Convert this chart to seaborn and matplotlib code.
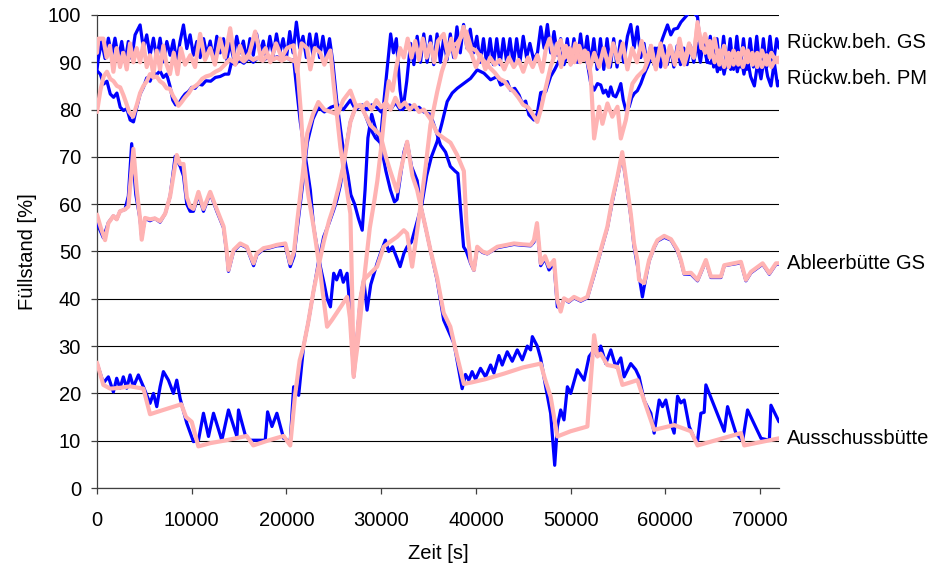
import matplotlib
matplotlib.use("Agg")
import matplotlib.pyplot as plt
import matplotlib.transforms as mtransforms
import seaborn as sns
import pandas as pd

# ---------------- data (time in s, level in %) ----------------
# Rückw.beh. GS  (blue = measured, pink = simulated)
gs_meas_t = [0, 140, 490, 850, 1200, 1550, 1900, 2260, 2610, 2960, 3310, 3670, 4020, 4550, 4900, 5250, 5600, 5960,
             6310, 6660, 7010, 7370, 7720, 8070, 8420, 8770, 9130, 9480, 9830, 10180, 10540, 10890, 11250, 11600,
             11950, 12300, 12650, 13000, 13350, 13700, 14050, 14400, 14750, 15100, 15450, 15800, 16150, 16500, 16850,
             17200, 17550, 17900, 18250, 18600, 18950, 19300, 19650, 20000, 20350, 20700, 21050, 21400, 21750, 22100,
             22450, 22800, 23150, 23500, 23850, 24200, 24550, 24900, 25300, 25700, 26100, 26500, 26800, 27200, 27600,
             28000, 28300, 28600, 29000, 29400, 29900, 30300, 30700, 31000, 31300, 31600, 32000, 32300, 32700, 33100,
             33450, 33800, 34150, 34500, 34850, 35200, 35550, 35900, 36250, 36600, 36950, 37300, 37650, 38000, 38350,
             38700, 39050, 39400, 39750, 40100, 40450, 40800, 41150, 41500, 41850, 42200, 42550, 42900, 43250, 43600,
             43950, 44300, 44650, 45000, 45350, 45700, 46100, 46500, 46850, 47200, 47550, 47900, 48250, 48600, 48950,
             49300, 49650, 50000, 50350, 50700, 51050, 51400, 51750, 52100, 52450, 52800, 53150, 53500, 53850, 54200,
             54550, 54900, 55250, 55600, 56000, 56350, 56700, 57050, 57400, 57750, 58100, 58450, 58800, 59150, 59500,
             59850, 60200, 60550, 60900, 61250, 61600, 61950, 62300, 62650, 63000, 63350, 63700, 64050, 64400, 64750,
             65100, 65450, 65800, 66150, 66500, 66850, 67200, 67550, 67900, 68250, 68600, 68950, 69300, 69650, 70000,
             70350, 70700, 71050, 71400, 71750, 72000]
gs_meas_v = [88.5, 90.8, 94.4, 90.8, 95.1, 91.5, 95.1, 90.8, 94.4, 90.1, 94.4, 90.8, 95.8, 97.9, 92.9, 95.8, 91.5, 95.1,
             90.8, 95.1, 90.1, 94.4, 91.5, 94.7, 90.1, 94.4, 97.9, 92.9, 95.8, 91.5, 94.4, 91, 95, 91.5,
             94.5, 90.5, 95.5, 92, 95, 90.5, 94, 91, 95.5, 92, 94.5, 90.5, 95, 91.5, 96,
             92, 94.5, 91, 95.5, 91.5, 96, 92, 95, 91, 96.5, 92, 98.5, 93, 95.5, 91,
             96, 91.5, 96, 91, 95.5, 91, 95, 90, 82, 76, 70, 66, 62, 60, 57,
             54.5, 63, 74, 79, 76, 73, 82, 90, 96, 92, 95, 84, 80, 86, 94,
             89.5, 95.5, 90, 96, 90, 95.5, 89.5, 96, 90, 95, 90.5, 96, 91, 97.5, 92,
             98, 93, 97, 92, 95.5, 90, 95, 89.5, 95, 89.5, 95, 89.5, 95, 90, 95,
             89.5, 95, 90, 95.5, 91, 94, 90.5, 92, 97.5, 93, 98, 92, 96.5, 91.5, 95,
             90, 95, 89.5, 95, 90, 96, 90.5, 95.5, 89.5, 95, 88.5, 95, 88.5, 95, 89,
             95, 89, 94.5, 90, 95.5, 98, 93, 97.5, 91, 94, 89, 93.5, 89.5, 93, 89,
             93.5, 89.5, 93, 89, 93.5, 89.5, 93, 89.5, 93.5, 90, 94, 90, 95, 90, 95.5,
             89, 95, 88.5, 95.5, 89, 95, 88.5, 95.5, 89, 95, 88.5, 95, 89, 95.5, 88.5,
             95, 89, 95.5, 89.5, 95, 93]

gs_sim_t = [0, 140, 670, 1020, 1370, 1730, 2080, 2430, 2780, 3140, 3490, 3840, 4190, 4550, 4900, 5250, 5600, 5950,
            6300, 6650, 7000, 7350, 7700, 8100, 8500, 8850, 9300, 9850, 10350, 10890, 11400, 11950, 12450, 13000,
            13500, 14060, 14600, 15100, 15600, 16100, 16700, 17300, 17800, 18300, 18900, 19500, 20050, 20760, 21110,
            21600, 22170, 22520, 23000, 23580, 24000, 24280, 24640, 25000, 25700, 26300, 26750, 26950, 27100, 27500,
            27900, 28300, 28800, 29300, 29600, 30000, 30400, 30800, 31200, 31600, 32000, 32400, 32800, 33200, 33600,
            34000, 34400, 34800, 35200, 35600, 36000, 36600, 37000, 37400, 37800, 38200, 38700, 39100, 39500, 40000,
            40500, 41000, 41500, 42000, 42500, 43000, 43500, 44000, 44500, 45000, 45500, 46000, 46500, 47000, 47400,
            47800, 48200, 48600, 49000, 49500, 50000, 50500, 51000, 51500, 52000, 52500, 53000, 53500, 54000, 54500,
            55000, 55500, 56000, 56500, 57000, 57500, 58000, 58500, 59000, 59500, 60000, 60500, 61000, 61500, 62000,
            62500, 63000, 63400, 63800, 64200, 64700, 65200, 65700, 66200, 66700, 67200, 67700, 68200, 68700, 69200,
            69700, 70200, 70700, 71200, 71700, 72000]
gs_sim_v = [92, 95, 95, 91, 93.5, 88, 93, 89, 92, 88.5, 94, 90, 93, 90, 94, 89, 91.5, 87.5,
            92.5, 88.5, 93.5, 89.5, 87.5, 92, 87.5, 93, 89.5, 91.5, 89, 96, 90.5, 93, 89.5, 95,
            91, 97.2, 89.5, 93.5, 90.5, 92, 96.5, 91, 93, 90, 94, 91, 93, 93.6, 88,
            94, 93, 88.5, 93, 92, 89.5, 91, 92.5, 85, 72, 64, 58, 40, 24, 30,
            38, 46, 55, 61, 65, 72, 80, 86, 84, 89, 93, 91, 95, 91, 94.5,
            90.5, 95, 91, 94, 90, 94.5, 96, 92, 95, 91, 94, 97.5, 93, 92, 89,
            91.5, 88.5, 91, 89.5, 90.5, 88.5, 91, 89, 90.5, 88, 91, 89, 91.5, 88, 93,
            95, 91, 94, 89, 93.5, 89.5, 94, 90, 92.5, 88.5, 92, 89, 93, 89, 94,
            90, 94, 88.5, 93, 90, 94.5, 90, 93.5, 88.5, 94, 89, 93.5, 89.5, 95, 90,
            94, 91, 98.5, 93, 96, 91, 95, 89.5, 93.5, 89, 92.5, 89.5, 93, 90, 92,
            89, 92.5, 89.5, 92, 90, 91]

# Rückw.beh. PM
pm_meas_t = [0, 350, 700, 1050, 1400, 1750, 2100, 2450, 2800, 3150, 3500, 3850, 4200, 4550, 4900, 5250, 5600, 5950,
             6300, 6650, 7000, 7350, 7700, 8000, 8300, 8700, 9000, 9300, 9650, 10000, 10350, 10700, 11100, 11500,
             12000, 12500, 13000, 13500, 13900, 14200, 14600, 15000, 15500, 16000, 16500, 17000, 17500, 18000, 18500,
             19000, 19500, 20000, 20400, 20760, 21100, 21460, 22000, 22520, 22870, 23230, 23580, 24000, 24300, 24640,
             24990, 25300, 25690, 26000, 26400, 26700, 27100, 27500, 27800, 28160, 28510, 28900, 29570, 30000, 30450,
             30800, 31200, 31600, 32000, 32400, 32740, 33200, 33800, 34300, 34800, 35300, 35900, 36400, 36970, 37500,
             38030, 38700, 39440, 40140, 40850, 41550, 42260, 42610, 43310, 43660, 44100, 44550, 44900, 45250, 45600,
             46130, 46480, 46840, 47370, 47890, 48300, 48950, 49300, 49700, 50100, 50500, 50900, 51300, 51770, 52130,
             52480, 52830, 53180, 53450, 53710, 54000, 54240, 54500, 54770, 55050, 55300, 55560, 55830, 56180, 56450,
             56710, 57050, 57410, 57770, 58120, 58500, 58900, 59300, 59700, 60230, 60580, 60900, 61290, 61650, 62000,
             62520, 63000, 63400, 63750, 64100, 64450, 64800, 65150, 65500, 65850, 66200, 66550, 66900, 67250, 67600,
             67950, 68300, 68650, 69000, 69400, 69750, 70100, 70450, 70800, 71150, 71500, 71850, 72000]
pm_meas_v = [88.2, 87.5, 85.4, 86, 83.3, 82.6, 83.5, 80.5, 79.8, 80.2, 77.8, 77.4, 80.5, 83.3, 84.7, 86.7, 86, 87.8,
             87.4, 88.2, 86.8, 87.5, 85, 82, 81, 81.5, 82.5, 83.3, 83.8, 84.7, 84.5, 85.4, 85.2, 86.1,
             86, 86.8, 87, 87.5, 87.5, 90, 89.5, 90.5, 89.8, 90.8, 90, 91, 90.3, 91, 90.5,
             91.2, 90.6, 91, 90.5, 90.5, 84, 77.4, 70, 63, 55.2, 51, 46.8, 43, 40, 38.3,
             45.4, 44, 46, 43.5, 45.4, 38, 23.5, 33, 40, 44, 37.6, 43, 47.5, 50, 52.4,
             50, 51, 48.9, 46.8, 49.6, 51, 52, 56.4, 60, 66, 70, 73.2, 77, 81.7, 83.5,
             84.5, 85.5, 86.6, 88.4, 87.7, 86.3, 87, 85.2, 85.9, 84.1, 84.5, 83.1, 81.3, 81.8, 78.9,
             77.8, 79.2, 83.6, 83.8, 87, 88.4, 91, 89.5, 92, 90, 92.5, 90, 92, 89.8, 85.5,
             84.1, 85.5, 85.2, 83.5, 84.1, 82.8, 84.8, 83, 82.7, 84, 85.5, 82, 79.9, 80.6, 82.5,
             83.4, 84, 85.5, 87.5, 89.1, 91, 93, 92.5, 95, 97.9, 95.8, 97, 97.2, 98.5, 99.3,
             100.5, 100.5, 99.6, 92, 93.3, 90, 89.8, 92, 88, 91.5, 87.5, 91, 88.5, 92, 88,
             91.5, 87.5, 91, 87, 85, 90, 86.5, 91, 87, 85, 90, 85, 86]

pm_sim_t = [0, 350, 700, 1050, 1400, 1750, 2100, 2450, 2800, 3150, 3400, 3800, 4200, 4550, 4900, 5250, 5600, 5950,
            6300, 6650, 7000, 7350, 7700, 8000, 8300, 8600, 8900, 9300, 9700, 10000, 10400, 10700, 11100, 11500,
            12000, 12500, 13000, 13500, 14000, 14500, 15000, 15500, 16000, 16500, 17000, 17500, 18000, 18500, 19000,
            19500, 20000, 20500, 21110, 21500, 21820, 22300, 22870, 23580, 24290, 24800, 25300, 25800, 26400, 26700,
            27100, 27500, 27800, 28160, 28870, 29570, 30270, 30900, 31680, 32390, 32740, 33270, 33700, 34150, 34700,
            35200, 35910, 36400, 36970, 37500, 38000, 38500, 39000, 39500, 40000, 40500, 41000, 41500, 42000, 42500,
            43000, 43500, 44000, 44500, 45000, 45500, 46000, 46480, 46840, 47300, 47900, 48400, 48950, 49400, 49900,
            50400, 50900, 51400, 51800, 52130, 52480, 53010, 53360, 53890, 54400, 54950, 55300, 55830, 56180, 56530,
            57060, 57770, 58470, 59000, 59500, 60000, 60500, 61000, 61500, 62000, 62500, 63000, 63400, 63800, 64200,
            64700, 65200, 65700, 66200, 66700, 67200, 67700, 68200, 68700, 69200, 69700, 70200, 70700, 71200, 71700,
            72000]
pm_sim_v = [79.5, 84, 87, 88, 86.5, 86, 85, 84.7, 83, 81, 79.5, 78.5, 81, 83.5, 85, 86, 87.5, 86.8,
            87, 86, 85.5, 84.5, 84.4, 83, 82, 80.8, 81.5, 82.6, 83.5, 84.5, 85, 85.5, 86.5, 87,
            87.3, 88, 88.5, 89.5, 90.6, 90, 91, 90.2, 91.2, 90.5, 91, 90.3, 91.5, 90.5, 91,
            90.3, 91, 90.5, 90, 80, 69.8, 62, 55.2, 45.4, 34.1, 35.5, 37, 38.5, 40.4, 36,
            23.5, 33, 40, 44, 45.4, 46.8, 51, 52, 53.1, 54.5, 53.8, 46.8, 53, 59.5, 68,
            76.7, 83.7, 88, 91.5, 93.5, 94, 95.5, 96.5, 93, 92.5, 91, 90, 88.8, 87.8, 86.5,
            86, 84.6, 83.8, 82.5, 81, 80.5, 79, 77.4, 79.9, 84, 89.1, 92, 94.7, 91, 93,
            90, 93.5, 90.5, 92, 87, 73.9, 80.6, 77, 81.3, 78.5, 80.6, 73.9, 77.8, 82, 85.5,
            87, 88.4, 92, 89, 93, 90, 93.5, 90.5, 92, 89.5, 93, 91, 98, 94, 92,
            94.5, 90, 92.5, 89, 92, 89.5, 92, 89, 92.5, 89.5, 92, 89, 91.5, 89, 91,
            90]

# Ableerbütte GS
ab_meas_t = [0, 670, 1200, 1730, 2080, 2430, 2960, 3310, 3660, 4100, 4550, 4720, 5070, 5600, 6100, 6660, 7200, 7720,
             8250, 8780, 9130, 9480, 9830, 10180, 10710, 11240, 11950, 12650, 13360, 13700, 13880, 14410, 15120, 15820,
             16530, 16880, 17580, 18300, 18990, 19880, 20400, 20800, 21150, 21700, 22200, 22800, 23370, 24000, 24700,
             25400, 26000, 26750, 27300, 28000, 28500, 29000, 29500, 30000, 30500, 31000, 31500, 32000, 32500, 33000,
             33500, 34000, 34500, 35200, 35700, 36265, 36800, 37300, 37800, 38100, 38380, 38700, 39000, 39440, 39790,
             40140, 40700, 41200, 42260, 43000, 44020, 45000, 45780, 46130, 46450, 46840, 47300, 47720, 48250, 48600,
             48950, 49300, 49800, 50360, 51070, 51770, 52480, 53180, 53880, 54400, 54940, 55450, 55800, 56350, 56700,
             57060, 57580, 57760, 58290, 58820, 59170, 59880, 60600, 61290, 61640, 61990, 62700, 63400, 64280, 64810,
             65870, 66220, 67980, 68510, 69040, 70270, 70980, 71680, 72000]
ab_meas_v = [56, 52.9, 56.1, 57.5, 56.8, 58.5, 58.9, 61.7, 72.8, 62, 56.8, 53, 57, 56.5, 57, 56.2, 58, 61.7,
             70.1, 68, 66, 60, 58.5, 58.5, 62, 58.5, 62.3, 58.5, 55, 49.5, 45.8, 50, 51.5, 50.8,
             47, 49.3, 50.5, 50.8, 51.2, 51.3, 46.8, 49, 55, 64, 73, 78, 80.5, 79.5, 80.5,
             81, 80, 82, 80, 81, 80, 81, 80.5, 79.5, 81, 80, 81.5, 80, 80.5, 81,
             80, 80.5, 79.5, 79, 76, 72.5, 71, 68, 67, 66.5, 59, 51, 50, 47.5, 46,
             50.8, 49.8, 49.5, 50.8, 51.1, 51.5, 51.3, 51.2, 52, 55.5, 47, 48.5, 46.1, 47.5, 38.3,
             38, 40, 39.3, 40.2, 39.5, 40.2, 45, 50, 55, 60.5, 65.5, 70.5, 65.5, 57.5, 51,
             47, 40.4, 42.5, 48, 50.8, 52.2, 53, 52.4, 50, 48, 45.2, 45.2, 43.8, 48, 44.5,
             44.5, 47, 47.6, 43.8, 45.5, 47.3, 45.2, 47.3, 47.3]

ab_sim_t = [0, 400, 850, 1200, 1730, 2080, 2430, 2960, 3310, 3840, 4200, 4550, 4720, 5070, 5600, 6100, 6660, 7200,
            7720, 8420, 8780, 9130, 9480, 9830, 10180, 10710, 11240, 11950, 12650, 13360, 13700, 13880, 14410, 15120,
            15820, 16530, 16880, 17580, 18300, 18990, 19880, 20400, 20800, 21150, 21700, 22200, 22800, 23370, 24000,
            24700, 25400, 26000, 26750, 27300, 28000, 28500, 29000, 29500, 30000, 30500, 31000, 31500, 32000, 32500,
            33000, 33500, 34000, 34500, 35200, 35910, 36600, 37320, 38000, 38730, 39000, 39440, 39790, 40140, 40700,
            41200, 42260, 43000, 44020, 45000, 45780, 46130, 46450, 46840, 47300, 47720, 48250, 48600, 48950, 49300,
            49800, 50360, 51070, 51770, 52480, 53180, 53880, 54400, 54940, 55450, 55800, 56350, 56700, 57060, 57230,
            57760, 58290, 58820, 59170, 59880, 60600, 61290, 61640, 61990, 62700, 63400, 64280, 64810, 65870, 66220,
            67980, 68510, 69040, 70270, 70980, 71680, 72000]
ab_sim_v = [57.8, 55, 52.4, 56, 57.5, 56.8, 58.5, 58.9, 59.5, 71.7, 63, 56.8, 52.5, 57.1, 56.8, 57, 56.4, 58,
            61.7, 70.4, 68.5, 68.5, 61.5, 59.5, 59, 62.6, 59, 62.6, 58.9, 55.3, 50, 46.1, 50.3, 51.7,
            51, 47.5, 49.6, 50.7, 51, 51.4, 51.7, 47.5, 50, 56.6, 66, 75, 79, 81.6, 80,
            79.5, 79, 82, 84, 81, 80.5, 81.5, 80, 82, 80.5, 81.5, 80, 82.5, 80.5, 81.5,
            80, 81, 79.5, 80, 78, 75, 74, 73, 70.5, 67, 56, 48, 46.1, 51, 50,
            49.6, 51, 51.3, 51.7, 51.5, 51.4, 52.4, 56, 47.5, 49, 46.8, 48.2, 39.7, 37.3, 40.1,
            39.5, 40.4, 39.7, 40.4, 45.4, 50.3, 55.2, 61, 65.8, 71, 66, 58, 51.7, 48, 44,
            43.3, 48.2, 51, 52.4, 53.3, 52.6, 50.3, 48.2, 45.4, 45.5, 44, 48.2, 44.7, 44.7, 47.1,
            47.8, 44, 45.7, 47.5, 45.4, 47.5, 47.5]

# Ausschussbütte
au_meas_t = [0, 670, 1200, 1730, 2080, 2430, 2780, 3140, 3490, 3840, 4370, 4900, 5600, 5960, 6310, 6660, 7010, 7540,
             8070, 8420, 8780, 9480, 10180, 10710, 11240, 11770, 12300, 13180, 13880, 14770, 14940, 15650, 16170,
             17760, 18010, 18470, 18990, 19700, 20400, 20760, 21290, 21810, 22300, 22870, 23400, 23930, 24500, 24990,
             25340, 25690, 26200, 26750, 27300, 27800, 28300, 28860, 29400, 29920, 30500, 30980, 31400, 31680, 32040,
             32400, 32740, 33200, 33800, 34150, 35200, 35900, 36600, 37700, 38550, 38900, 39260, 39600, 39960, 40490,
             41020, 41550, 41900, 42430, 42780, 43310, 43840, 44370, 44900, 45430, 45780, 45960, 46480, 46840, 47370,
             47890, 48320, 48600, 48950, 49300, 49660, 50010, 50710, 51420, 51950, 52480, 52830, 53180, 53710, 54240,
             54770, 55300, 55650, 56350, 56880, 57230, 57760, 58470, 58820, 59350, 59700, 60050, 60580, 60930, 61290,
             61640, 61990, 62520, 63050, 63400, 63750, 64100, 64280, 66220, 66570, 67450, 68160, 68680, 70100, 70980,
             71150, 72000]
au_meas_v = [26.4, 22.2, 23.5, 20.3, 23.2, 21.1, 23.5, 21.1, 23.9, 21.4, 23.9, 21.4, 17.9, 20, 17.2, 21.4, 24.6, 22.8,
             20, 22.8, 18.9, 13.7, 9.8, 10.1, 15.8, 10.9, 15.8, 10.1, 16.5, 10.9, 16.5, 11.2, 10.1,
             10.1, 16.1, 13, 15.8, 10.5, 9.8, 21.4, 19.6, 30, 35, 41.8, 48, 53.1, 56, 58.8,
             61, 64, 71, 77.4, 80.5, 81, 79, 76, 74, 73, 67, 63, 60.5, 61, 66,
             71, 73.2, 68, 65, 60, 50.3, 44, 35.5, 30.5, 21, 24, 22.8, 24.6, 23, 25.3,
             23.5, 26, 24.3, 28, 26, 28.8, 26.8, 29.2, 27.1, 30, 29.2, 32, 30, 27.4, 21.4,
             15.8, 4.8, 13, 16.5, 14.4, 21.4, 20, 25, 22.8, 27.8, 29.2, 27.8, 30, 26.3, 29.2,
             25.6, 27.5, 23.5, 26.3, 25, 23.5, 18.5, 15.8, 11.6, 18.6, 17.2, 18.6, 13.7, 11.6, 19.4,
             18, 18.6, 13, 10.5, 10, 15.8, 16, 21.8, 12, 17.2, 11.6, 10, 16.5, 10.5, 10.1,
             17.5, 14]

au_sim_t = [0, 670, 1400, 2500, 3500, 4900, 5600, 7000, 8900, 9400, 10000, 10700, 12000, 13400, 15800, 16500, 18000,
            19700, 20400, 20900, 21400, 21810, 22300, 22870, 23400, 23930, 24500, 24990, 25500, 26000, 26750, 27300,
            27800, 28300, 28860, 29920, 30500, 30980, 31680, 32040, 32740, 33300, 33800, 34150, 34700, 35200, 35900,
            36600, 37300, 38000, 38730, 39500, 41000, 43000, 45000, 46840, 47300, 47890, 48600, 50000, 51770, 52480,
            52830, 53180, 53880, 54940, 55470, 57060, 57760, 58820, 60930, 62700, 63400, 67980, 68330, 72000]
au_sim_v = [26.5, 21.8, 21, 21.2, 21.5, 21, 15.6, 16.5, 17.7, 15, 14, 8.8, 9.5, 10, 11, 9, 10,
            11, 9, 19.5, 27, 30, 35, 41.8, 47, 52, 56.5, 59.5, 63.5, 68, 77.4, 80.5,
            81, 79, 76.7, 74.6, 70, 66.9, 62.7, 66.9, 73.2, 66, 63, 59.8, 55, 50.3, 44.5,
            37, 34.1, 28, 22, 22.3, 23, 24.2, 25.5, 26.3, 23, 19.3, 10.9, 12, 13, 32.3,
            27.8, 28.4, 26, 25.6, 21.8, 22.8, 18.5, 12.3, 13.3, 12, 9, 11.6, 9, 10.5]

labels = ["Rückw.beh. GS", "Rückw.beh. PM", "Ableerbütte GS", "Ausschussbütte"]
label_y = [94.1, 86.6, 47.4, 10.4]
x_ticks = [0, 10000, 20000, 30000, 40000, 50000, 60000, 70000]
y_ticks = [0, 10, 20, 30, 40, 50, 60, 70, 80, 90, 100]

# ---------------- plot ----------------
sns.set_style("white")
plt.rcParams["font.family"] = ["Liberation Sans", "DejaVu Sans"]
plt.rcParams["text.color"] = "black"
plt.rcParams["axes.labelcolor"] = "black"
plt.rcParams["xtick.color"] = "black"
plt.rcParams["ytick.color"] = "black"

BLUE = "#0000FF"
PINK = "#FFB3B3"

fig = plt.figure(figsize=(9.43, 5.66), dpi=100)
ax = fig.add_axes([97 / 943, 78 / 566, 682 / 943, 473 / 566])

meas = [(gs_meas_t, gs_meas_v), (pm_meas_t, pm_meas_v), (ab_meas_t, ab_meas_v), (au_meas_t, au_meas_v)]
sims = [(gs_sim_t, gs_sim_v), (pm_sim_t, pm_sim_v), (ab_sim_t, ab_sim_v), (au_sim_t, au_sim_v)]

for t, v in meas:
    df = pd.DataFrame({"t": t, "v": v})
    sns.lineplot(data=df, x="t", y="v", color=BLUE, linewidth=2.3, estimator=None, sort=False, ax=ax, zorder=3)
for t, v in sims:
    df = pd.DataFrame({"t": t, "v": v})
    sns.lineplot(data=df, x="t", y="v", color=PINK, linewidth=3.0, estimator=None, sort=False, ax=ax, zorder=4)

ax.set_xlim(0, 72000)
ax.set_ylim(0, 100)
ax.set_xticks(x_ticks)
ax.set_yticks(y_ticks)
ax.set_xticklabels([str(x) for x in x_ticks])
ax.yaxis.grid(True, color="black", linewidth=0.8)
ax.xaxis.grid(False)
ax.set_axisbelow(True)
for s in ["top", "right"]:
    ax.spines[s].set_visible(False)
for s in ["left", "bottom"]:
    ax.spines[s].set_color("#404040")
    ax.spines[s].set_linewidth(0.9)
ax.tick_params(axis="both", which="major", direction="out", length=4.5, width=0.9, color="#404040",
               labelsize=14.5, labelcolor="black", left=True, bottom=True)
ax.tick_params(axis="y", pad=7)
ax.tick_params(axis="x", pad=12)

ax.set_xlabel("Zeit [s]", fontsize=14.5, labelpad=10, color="black")
ax.set_ylabel("Füllstand [%]", fontsize=14.5, labelpad=8, color="black")

trans = mtransforms.blended_transform_factory(ax.transAxes, ax.transData)
for lab, yv in zip(labels, label_y):
    ax.text(1.0117, yv, lab, transform=trans, ha="left", va="center", fontsize=14.5, color="black",
            clip_on=False)

fig.savefig("out.png", dpi=100)
